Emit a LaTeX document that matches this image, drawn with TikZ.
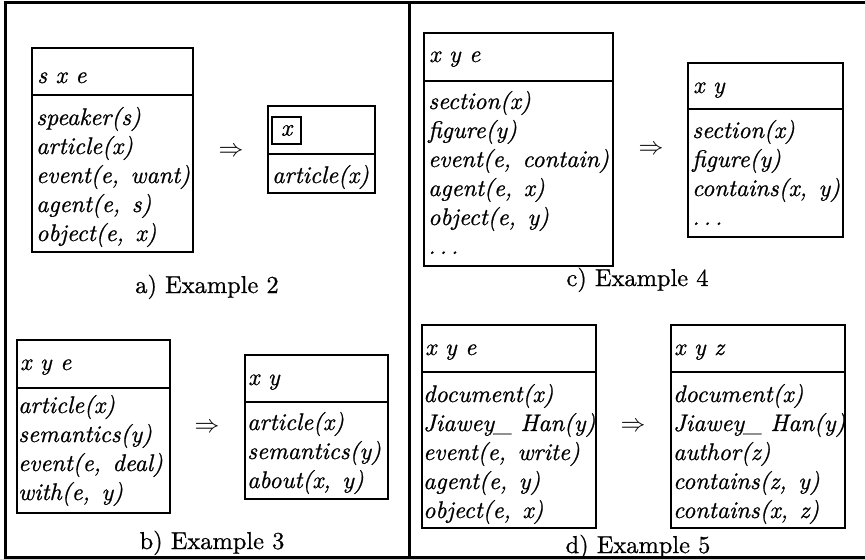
\documentclass[tikz,border=0pt]{standalone}
\usepackage{fontspec}
% the 10pt design of Latin Modern, at every size
\setmainfont{lmroman10}[Extension=.otf, UprightFont=*-regular, ItalicFont=*-italic, FakeBold=0.8]

% fonts for the DRS terms and the captions
\newcommand\termfont{\fontsize{24}{29}\selectfont\itshape}
\newcommand\capfont{\fontsize{24.4}{29}\selectfont}
% comma between the arguments of a condition
\newcommand\argsep{,\hspace{0.48em}}

% a DRS box: name, left, top, separator, right, bottom
\newcommand\drsbox[6]{%
  \node[drs, minimum width={(#5-#2)*1pt}, minimum height={(#4-#3)*1pt}] (#1-head) at (#2,#3) {};
  \node[drs, minimum width={(#5-#2)*1pt}, minimum height={(#6-#4)*1pt}] (#1-body) at (#2,#4) {};}

% the conditions of a DRS, one per line: name, x, first baseline, step, list
\newcommand\drsterms[5]{%
  \foreach \t [count=\i from 0] in {#5}
    \node[term] (#1-\i) at (#2,{#3+#4*\i}) {\t};}

\begin{document}
\begin{tikzpicture}[x=1pt,y=-1pt,
  frame/.style={line width=3pt},
  drs/.style={draw, line width=2.2pt, inner sep=0pt, outer sep=0pt, anchor=north west},
  term/.style={anchor=base west, inner sep=0pt, font=\termfont},
  impl/.style={inner sep=0pt, font=\fontsize{23}{29}\selectfont},
  caption/.style={anchor=base, inner sep=0pt, font=\capfont}]
\useasboundingbox (0,0) rectangle (865,559);

% outer frame and the column divider
\draw[frame] (865,2.5) -- (5,2.5) -- (5,557.5) -- (865,557.5);
\draw[frame] (409,2.5) -- (409,557.5);

% ---- a) Example 2
\drsbox{a1}{32}{48}{95}{193}{252}
\node[term] (a1-vars) at (37,83) {s x e};
\drsterms{a1}{36}{125}{29}{{speaker(s)},{article(x)},{event(e\argsep want)},{agent(e\argsep s)},{object(e\argsep x)}}
\node[impl] (a-impl) at (231,152) {$\Rightarrow$};
\drsbox{a2}{268}{106}{154}{375}{193}
\node[draw, line width=2pt, inner sep=0pt, minimum width=29pt, minimum height=27pt, font=\termfont] (a2-vars) at (286.5,130.5) {x};
\drsterms{a2}{272}{183}{29}{{article(x)}}
\node[caption] (a-cap) at (207,293) {a) Example 2};

% ---- b) Example 3
\drsbox{b1}{17}{340}{388}{170}{513}
\node[term] (b1-vars) at (20,370) {x y e};
\drsterms{b1}{18}{413}{29}{{article(x)},{semantics(y)},{event(e\argsep deal)},{with(e\argsep y)}}
\node[impl] (b-impl) at (207,427.5) {$\Rightarrow$};
\drsbox{b2}{245}{355}{402}{388}{499}
\node[term] (b2-vars) at (248,385) {x y};
\drsterms{b2}{247}{430}{29}{{article(x)},{semantics(y)},{about(x\argsep y)}}
\node[caption] (b-cap) at (212,549) {b) Example 3};

% ---- c) Example 4
\drsbox{c1}{424}{33}{81}{613}{266}
\node[term] (c1-vars) at (429,62) {x y e};
\drsterms{c1}{428}{109}{29}{{section(x)},{figure(y)},{event(e\argsep contain)},{agent(e\argsep x)},{object(e\argsep y)},{.\,.\,.}}
\node[impl] (c-impl) at (651,150) {$\Rightarrow$};
\drsbox{c2}{688}{63}{109}{843}{237}
\node[term] (c2-vars) at (693,93) {x y};
\drsterms{c2}{692}{138}{29}{{section(x)},{figure(y)},{contains(x\argsep y)},{.\,.\,.}}
\node[caption] (c-cap) at (637.5,286) {c) Example 4};

% ---- d) Example 5
\drsbox{d1}{422}{325}{372}{596}{528}
\node[term] (d1-vars) at (425,355) {x y e};
\drsterms{d1}{423}{402}{29}{{document(x)},{Jiawey\_ Han(y)},{event(e\argsep write)},{agent(e\argsep y)},{object(e\argsep x)}}
\node[impl] (d-impl) at (633,427) {$\Rightarrow$};
\drsbox{d2}{671}{325}{372}{845}{528}
\node[term] (d2-vars) at (674,355) {x y z};
\drsterms{d2}{673}{402}{29}{{document(x)},{Jiawey\_ Han(y)},{author(z)},{contains(z\argsep y)},{contains(x\argsep z)}}
\node[caption] (d-cap) at (638,553) {d) Example 5};
\end{tikzpicture}
\end{document}
